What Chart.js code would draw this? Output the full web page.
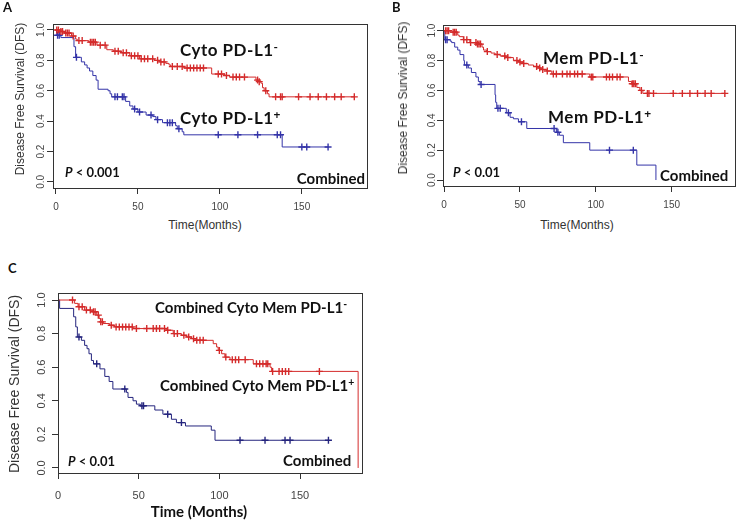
<!DOCTYPE html>
<html>
<head>
<meta charset="utf-8">
<script src="https://cdn.jsdelivr.net/npm/chart.js@4.4.1/dist/chart.umd.min.js"></script>
<style>
    html, body { margin: 0; padding: 0; background: #fff; }
    #page { position: relative; width: 741px; height: 521px; overflow: hidden; }
    canvas { position: absolute; }
    .lbl { position: absolute; font-family: Lato, sans-serif; font-weight: 700; color: #111; white-space: nowrap; line-height: 1; }
    .lbl sup { position: relative; top: -0.45em; font-size: 0.7em; vertical-align: baseline; }
    .wide { font-size: 17px; letter-spacing: 0.5px; }
    .ax { position: absolute; font-family: "Liberation Sans", Arial, sans-serif; color: #333; white-space: nowrap; line-height: 1; transform: translate(-50%, -50%); }
    .ax.rot { transform: translate(-50%, -50%) rotate(-90deg); }
</style>
</head>
<body>
<div id="page">
    <canvas id="chartA" width="372" height="215" style="left:0;top:0"></canvas>
    <canvas id="chartB" width="369" height="215" style="left:372px;top:0"></canvas>
    <canvas id="chartC" width="372" height="241" style="left:0;top:280px"></canvas>

    <div class="lbl" style="left:3px;top:1px;font-size:13px">A</div>
    <div class="lbl" style="left:392px;top:1px;font-size:13px">B</div>
    <div class="lbl" style="left:8px;top:262px;font-size:13px">C</div>

    <div class="ax rot" style="left:20px;top:99px;font-size:12px">Disease Free Survival (DFS)</div>
    <div class="ax rot" style="left:403px;top:98px;font-size:12px">Disease Free Survival (DFS)</div>
    <div class="ax rot" style="left:14px;top:384px;font-size:14px">Disease Free Survival (DFS)</div>
    <div class="ax" style="left:205px;top:225px;font-size:12px">Time(Months)</div>
    <div class="ax" style="left:577px;top:225px;font-size:12px">Time(Months)</div>
    <div class="ax" style="left:199px;top:511px;font-size:15px;font-family:Lato,sans-serif;font-weight:700;color:#111">Time (Months)</div>

    <div class="lbl wide" style="left:180px;top:41px">Cyto PD-L1<sup>-</sup></div>
    <div class="lbl wide" style="left:180px;top:109px">Cyto PD-L1<sup>+</sup></div>
    <div class="lbl" style="left:65px;top:166px;font-size:13px"><i>P</i> &lt; 0.001</div>
    <div class="lbl" style="right:376px;top:171px;font-size:15px">Combined</div>

    <div class="lbl wide" style="left:543px;top:49px">Mem PD-L1<sup>-</sup></div>
    <div class="lbl wide" style="left:548px;top:108px">Mem PD-L1<sup>+</sup></div>
    <div class="lbl" style="left:453px;top:166px;font-size:13px"><i>P</i> &lt; 0.01</div>
    <div class="lbl" style="left:660px;top:168px;font-size:15px">Combined</div>

    <div class="lbl" style="left:155px;top:300px;font-size:15px">Combined Cyto Mem PD-L1<sup>-</sup></div>
    <div class="lbl" style="left:160px;top:378px;font-size:15px">Combined Cyto Mem PD-L1<sup>+</sup></div>
    <div class="lbl" style="left:68px;top:455px;font-size:13px"><i>P</i> &lt; 0.01</div>
    <div class="lbl" style="left:283px;top:453px;font-size:15px">Combined</div>
</div>

<script>
// axis ticks (shared by all three panels)
const xTicks = [0, 50, 100, 150];
const yTicks = [0, 0.2, 0.4, 0.6, 0.8, 1.0];
const yTickLabels = ['0.0', '0.2', '0.4', '0.6', '0.8', '1.0'];

// Panel A - cytoplasmic PD-L1 (event times, survival after each event, censor times)
const aNegTimes = [2, 5, 9.5, 12, 13, 20, 25, 31, 35, 40, 45, 51, 60, 63, 67, 69, 70, 78, 95, 103, 106, 122, 123.5, 125, 126, 127, 129, 130];
const aNegSurv = [0.99, 0.98, 0.96, 0.94, 0.93, 0.92, 0.90, 0.87, 0.86, 0.85, 0.83, 0.81, 0.80, 0.79, 0.78, 0.77, 0.76, 0.75, 0.71, 0.70, 0.69, 0.67, 0.66, 0.65, 0.62, 0.60, 0.58, 0.56];
const aNegCensor = [0.5, 1.5, 3, 4, 6, 7, 8, 10.5, 14, 16, 21, 22, 23, 24, 27, 30, 36, 38, 41, 43, 46, 48, 50, 52, 54, 56, 59, 62, 64, 66, 71, 74, 77, 80, 82, 84, 86, 88, 90, 99, 101, 104, 108, 110, 112, 115, 123, 124, 128, 134, 137, 138, 148, 155, 160, 165, 170, 174, 182];
const aPosTimes = [0.5, 3, 11, 12, 15.5, 17.5, 19, 20.5, 22.5, 24.5, 25.7, 31.8, 33, 34, 42.5, 45, 47, 50, 55, 59, 61, 65, 73, 74, 77, 78, 138];
const aPosSurv = [0.965, 0.95, 0.89, 0.82, 0.79, 0.77, 0.75, 0.73, 0.70, 0.67, 0.61, 0.60, 0.58, 0.56, 0.53, 0.50, 0.48, 0.46, 0.44, 0.43, 0.41, 0.39, 0.37, 0.35, 0.33, 0.31, 0.23];
const aPosCensor = [1, 2, 12.5, 36, 37.5, 40.5, 41.5, 48, 51, 58, 62, 68, 69.5, 71, 75, 99, 111, 123, 135, 137, 150, 153, 166];

// Panel B - membranous PD-L1
const bNegTimes = [4, 9, 10, 12.7, 17, 21.5, 25, 26, 28, 31, 33.6, 37, 41, 45.7, 49, 52, 55.5, 59, 62, 64, 67.6, 71, 96, 121.5, 123.6, 127, 129, 131];
const bNegSurv = [0.99, 0.97, 0.96, 0.94, 0.92, 0.91, 0.89, 0.87, 0.86, 0.85, 0.84, 0.83, 0.82, 0.80, 0.79, 0.78, 0.77, 0.76, 0.75, 0.74, 0.73, 0.71, 0.69, 0.66, 0.645, 0.62, 0.60, 0.58];
const bNegCensor = [1, 2, 3, 6, 7, 8, 13, 15, 17.5, 21, 22, 23, 24, 28.5, 35, 40, 42, 48, 50, 52.5, 61, 63, 65, 68, 72, 74, 78, 81, 83, 86, 88, 91, 97, 98, 107, 109, 111, 114, 116, 124, 125, 126, 130, 134, 135, 138, 151, 157, 162, 167, 172, 176, 185];
const bPosTimes = [0.5, 4, 5, 7, 9, 10.5, 13, 13.4, 16, 18, 21, 22.6, 23.7, 33.6, 34, 34.7, 41, 43.5, 45.7, 49, 54.5, 74, 76, 78.6, 96, 127, 139.6];
const bPosSurv = [0.94, 0.93, 0.92, 0.89, 0.87, 0.84, 0.80, 0.77, 0.75, 0.72, 0.69, 0.66, 0.64, 0.57, 0.52, 0.48, 0.45, 0.42, 0.41, 0.39, 0.345, 0.32, 0.30, 0.25, 0.20, 0.10, 0.0];
const bPosCensor = [1, 2, 15, 24.4, 35.5, 37, 42.4, 51, 72.5, 75, 109, 124.7];

// Panel C - combined cyto + mem
const cNegTimes = [10.3, 12.4, 16.5, 21.7, 24, 25.5, 26.3, 28, 32, 35, 46.5, 67, 71.4, 76.5, 79.7, 82.8, 85, 96.2, 98.3, 99.3, 101.4, 103.4, 106.6, 121, 131.4, 132.4, 186];
const cNegSurv = [0.98, 0.96, 0.94, 0.93, 0.91, 0.89, 0.87, 0.86, 0.85, 0.84, 0.83, 0.82, 0.80, 0.79, 0.78, 0.77, 0.76, 0.74, 0.72, 0.70, 0.68, 0.66, 0.645, 0.62, 0.60, 0.575, 0.0];
const cNegCensor = [9, 13, 15, 17.6, 20, 22, 23, 25, 26.5, 27.5, 33, 36, 38, 40, 42, 44, 46, 48.6, 55, 59, 61, 63, 66, 68, 72, 74, 78, 81, 84, 86, 88, 90, 100, 104, 108, 110, 112, 116, 123, 125, 127, 129, 130, 133, 137, 139, 141, 143, 162];
const cPosTimes = [1, 9.7, 11, 12, 14.5, 16.5, 18, 19.2, 20.7, 22, 26, 29, 31.7, 34, 42.4, 43.4, 46.5, 48.6, 51, 60, 65, 70.3, 73.4, 79, 95, 97.3];
const cPosSurv = [0.95, 0.90, 0.84, 0.78, 0.76, 0.73, 0.71, 0.68, 0.64, 0.62, 0.59, 0.545, 0.515, 0.47, 0.45, 0.42, 0.40, 0.38, 0.37, 0.345, 0.32, 0.29, 0.27, 0.25, 0.225, 0.165];
const cPosCensor = [13, 24, 41.4, 52, 53, 68, 76.5, 112.8, 128.3, 140.7, 143.8, 167.6];

const RED = '#d42b2b';
const BLUE = '#3434a8';
const NAVY = '#25257e';

// KM step curve: start at (0,1), one point per event, run on to the last censor
function kmLine(times, surv, censor) {
    const pts = [{ x: 0, y: 1 }];
    times.forEach((t, i) => pts.push({ x: t, y: surv[i] }));
    const end = Math.max(...censor);
    if (end > times[times.length - 1]) pts.push({ x: end, y: surv[surv.length - 1] });
    return pts;
}

function survAt(times, surv, t) {
    let s = 1;
    times.forEach((ti, i) => { if (ti <= t) s = surv[i]; });
    return s;
}

function kmCensor(times, surv, censor) {
    return censor.map(t => ({ x: t, y: survAt(times, surv, t) }));
}

// box around the plot + rotated y tick labels (R style)
const framePlugin = {
    id: 'frame',
    afterDraw(chart, args, opts) {
        const { ctx, chartArea: a } = chart;
        const y = chart.scales.y;
        ctx.save();
        ctx.strokeStyle = '#333';
        ctx.lineWidth = 1;
        ctx.strokeRect(Math.round(a.left) + 0.5, Math.round(a.top) + 0.5, Math.round(a.right - a.left), Math.round(a.bottom - a.top));
        ctx.fillStyle = '#444';
        ctx.font = opts.font;
        ctx.textAlign = 'center';
        ctx.textBaseline = 'bottom';
        yTicks.forEach((v, i) => {
            ctx.save();
            ctx.translate(a.left - opts.gap, y.getPixelForValue(v));
            ctx.rotate(-Math.PI / 2);
            ctx.fillText(yTickLabels[i], 0, 0);
            ctx.restore();
        });
        ctx.restore();
    }
};

function makePanel(id, cfg) {
    const datasets = [
        { data: kmLine(cfg.negT, cfg.negS, cfg.negC), borderColor: RED, borderWidth: 1, stepped: true, pointRadius: 0 },
        { data: kmCensor(cfg.negT, cfg.negS, cfg.negC), showLine: false, pointStyle: 'cross', pointRadius: 3.5, borderColor: RED, pointBorderWidth: 1.4 },
        { data: kmLine(cfg.posT, cfg.posS, cfg.posC), borderColor: cfg.posColor, borderWidth: 1, stepped: true, pointRadius: 0 },
        { data: kmCensor(cfg.posT, cfg.posS, cfg.posC), showLine: false, pointStyle: 'cross', pointRadius: 3.5, borderColor: cfg.posColor, pointBorderWidth: 1.4 }
    ];

    return new Chart(document.getElementById(id), {
        type: 'line',
        data: { datasets },
        options: {
            responsive: false,
            animation: false,
            events: [],
            layout: { padding: { top: cfg.padTop, right: cfg.padRight, left: 0, bottom: 0 } },
            plugins: {
                legend: { display: false },
                tooltip: { enabled: false },
                frame: { gap: cfg.gap, font: cfg.yFont }
            },
            scales: {
                x: {
                    type: 'linear',
                    min: cfg.xMin,
                    max: cfg.xMax,
                    afterBuildTicks: s => { s.ticks = xTicks.map(v => ({ value: v })); },
                    afterFit: s => { s.height = cfg.xH; },
                    grid: { drawOnChartArea: false, tickLength: 6, color: '#333' },
                    border: { display: false },
                    ticks: { font: { family: 'Liberation Sans', size: cfg.xFontSize }, color: '#444', padding: cfg.xPad, maxRotation: 0, autoSkip: false }
                },
                y: {
                    type: 'linear',
                    min: cfg.yMin,
                    max: cfg.yMax,
                    afterBuildTicks: s => { s.ticks = yTicks.map(v => ({ value: v })); },
                    afterFit: s => { s.width = cfg.yW; },
                    grid: { drawOnChartArea: false, tickLength: 6, color: '#333' },
                    border: { display: false },
                    ticks: { display: false }
                }
            }
        },
        plugins: [framePlugin]
    });
}

makePanel('chartA', {
    negT: aNegTimes, negS: aNegSurv, negC: aNegCensor,
    posT: aPosTimes, posS: aPosSurv, posC: aPosCensor, posColor: BLUE,
    xMin: -1.8, xMax: 189.5, yMin: -0.04, yMax: 1.04,
    padTop: 23.9, padRight: 4, yW: 53, xH: 27, xPad: 7, xFontSize: 10,
    gap: 6.5, yFont: '10px "Liberation Sans"'
});

makePanel('chartB', {
    negT: bNegTimes, negS: bNegSurv, negC: bNegCensor,
    posT: bPosTimes, posS: bPosSurv, posC: bPosCensor, posColor: BLUE,
    xMin: -0.7, xMax: 191.7, yMin: -0.04, yMax: 1.04,
    padTop: 24.7, padRight: 6, yW: 71, xH: 29, xPad: 7, xFontSize: 10,
    gap: 5.5, yFont: '10px "Liberation Sans"'
});

makePanel('chartC', {
    negT: cNegTimes, negS: cNegSurv, negC: cNegCensor,
    posT: cPosTimes, posS: cPosSurv, posC: cPosCensor, posColor: NAVY,
    xMin: 0, xMax: 188.4, yMin: -0.03, yMax: 1.04,
    padTop: 13.3, padRight: 10, yW: 58, xH: 48, xPad: 10, xFontSize: 11,
    gap: 11, yFont: '11px "Liberation Sans"'
});
</script>
</body>
</html>
